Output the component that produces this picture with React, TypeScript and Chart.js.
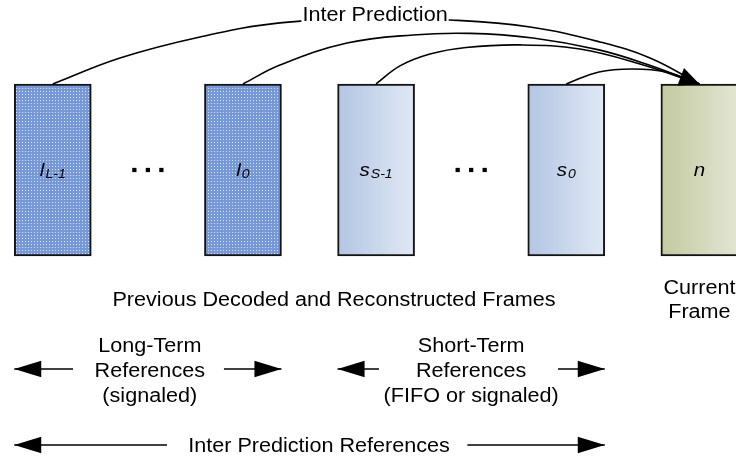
import React, { useEffect, useRef } from 'react';
import { Chart, registerables } from 'chart.js';

Chart.register(...registerables);

// ---------------- data ----------------
// frames: slot position along the timeline, spanning frame-height units 0..1
const frameMain = ['l', 'l', 's', 's', 'n'];
const frameSub = ['L-1', '0', 'S-1', '0', ''];
const frameSlot = [0, 2, 3.4, 5.4, 6.8];
const frameKind = ['long', 'long', 'short', 'short', 'current'];
const frameBottom = 0;
const frameTop = 1;

// ellipsis dots between frames
const dotsSlot = [0.858, 1.0, 1.142, 4.258, 4.4, 4.542];
const dotsLevel = [0.5, 0.5, 0.5, 0.5, 0.5, 0.5];

// prediction curves (slot units / frame-height units)
const curveLongFarX = [0.0, 0.707, 1.548, 2.389, 3.388, 4.177, 5.019, 5.755, 6.281, 6.8];
const curveLongFarY = [1.0, 1.151, 1.273, 1.355, 1.381, 1.372, 1.331, 1.244, 1.151, 1.0];
const curveLongNearX = [2.0, 2.389, 3.094, 3.788, 4.388, 5.05, 5.744, 6.27, 6.8];
const curveLongNearY = [1.0, 1.11, 1.238, 1.285, 1.294, 1.267, 1.198, 1.11, 1.0];
const curveShortFarX = [3.4, 3.651, 3.967, 4.346, 4.914, 5.544, 6.175, 6.8];
const curveShortFarY = [1.0, 1.105, 1.174, 1.212, 1.227, 1.203, 1.116, 1.0];
const curveShortNearX = [5.4, 5.744, 6.101, 6.448, 6.8];
const curveShortNearY = [1.0, 1.07, 1.087, 1.07, 1.0];

// range arrows: from -> to (arrowhead at "to"), at level
const arrowFrom = [0.213, 1.8, 3.43, 5.313, 1.201, 4.36];
const arrowTo = [-0.405, 2.405, 2.995, 5.805, -0.405, 5.805];
const arrowLevel = [-0.657, -0.657, -0.657, -0.657, -1.099, -1.099];

// texts
const topLabel = 'Inter Prediction';
const framesCaption = 'Previous Decoded and Reconstructed Frames';
const currentCaption = ['Current', 'Frame'];
const longCaption = ['Long-Term', 'References', '(signaled)'];
const shortCaption = ['Short-Term', 'References', '(FIFO or signaled)'];
const bottomLabel = 'Inter Prediction References';

// ---------------- layout / style ----------------
const L = {
  xMin: -0.555,
  xMax: 7.185,
  yMin: -1.18,
  yMax: 1.488,
  topLabel: { x: 3.389, y: 1.366 },
  framesCaption: { x: 2.957, y: -0.291 },
  currentCaption: { x: 6.8, y: [-0.221, -0.36] },
  longCaption: { x: 1.02, y: [-0.558, -0.703, -0.848] },
  shortCaption: { x: 4.4, y: [-0.558, -0.703, -0.848] },
  bottomLabel: { x: 2.8, y: -1.137 },
  frameLabelY: 0.465,
};
const FONT = '"Liberation Sans", Arial, Helvetica, sans-serif';
const SX = 1.08;
const TEXT_SIZE = 20;

let patternCache: CanvasPattern | null = null;
function getPattern(ctx: CanvasRenderingContext2D) {
  if (patternCache) return patternCache;
  const c = document.createElement('canvas');
  c.width = 3;
  c.height = 3;
  const g = c.getContext('2d')!;
  g.fillStyle = '#7798d6';
  g.fillRect(0, 0, 3, 3);
  g.fillStyle = '#d9e3f6';
  g.fillRect(1, 1, 1, 1);
  patternCache = ctx.createPattern(c, 'repeat');
  return patternCache!;
}

function drawStretched(ctx: CanvasRenderingContext2D, text: string, x: number, y: number, font: string, align: CanvasTextAlign = 'center') {
  ctx.save();
  ctx.font = font;
  ctx.textAlign = align;
  ctx.textBaseline = 'alphabetic';
  ctx.translate(x, y);
  ctx.scale(SX, 1);
  ctx.fillText(text, 0, 0);
  ctx.restore();
}

const diagramPlugin = {
  id: 'diagramText',
  afterDatasetsDraw(chart: any) {
    const ctx: CanvasRenderingContext2D = chart.ctx;
    const xs = chart.scales.x;
    const ys = chart.scales.y;
    const px = (v: number) => xs.getPixelForValue(v);
    const py = (v: number) => ys.getPixelForValue(v);
    ctx.save();
    ctx.fillStyle = '#000';

    // arrowheads
    chart.data.datasets.forEach((ds: any, i: number) => {
      const head = ds.arrowHead;
      if (!head) return;
      const pts = chart.getDatasetMeta(i).data;
      const a = pts[pts.length - 2];
      const b = pts[pts.length - 1];
      const ang = Math.atan2(b.y - a.y, b.x - a.x);
      ctx.save();
      ctx.translate(b.x, b.y);
      ctx.rotate(ang);
      ctx.beginPath();
      ctx.moveTo(0, 0);
      ctx.lineTo(-head.len, -head.half);
      ctx.lineTo(-head.len, head.half);
      ctx.closePath();
      ctx.fillStyle = '#000';
      ctx.fill();
      ctx.restore();
    });

    const font = `${TEXT_SIZE}px ${FONT}`;

    // top label with white background over the curve
    {
      const x = px(L.topLabel.x);
      const y = py(L.topLabel.y);
      ctx.font = font;
      const w = ctx.measureText(topLabel).width * SX;
      ctx.fillStyle = '#fff';
      ctx.fillRect(x - w / 2 - 1, y - 16, w + 2, 20);
      ctx.fillStyle = '#000';
      drawStretched(ctx, topLabel, x, y, font);
    }

    // frame labels
    const mainFont = `italic 19px ${FONT}`;
    const subFont = `italic 13px ${FONT}`;
    frameMain.forEach((m, i) => {
      const cx = px(frameSlot[i]);
      const by = py(L.frameLabelY);
      ctx.font = mainFont;
      const wm = ctx.measureText(m).width * SX;
      ctx.font = subFont;
      const wsub = frameSub[i] ? ctx.measureText(frameSub[i]).width * SX + 1 : 0;
      const start = cx - (wm + wsub) / 2;
      drawStretched(ctx, m, start, by, mainFont, 'left');
      if (frameSub[i]) drawStretched(ctx, frameSub[i], start + wm + 1, by + 2.5, subFont, 'left');
    });

    drawStretched(ctx, framesCaption, px(L.framesCaption.x), py(L.framesCaption.y), font);
    currentCaption.forEach((t, k) => drawStretched(ctx, t, px(L.currentCaption.x), py(L.currentCaption.y[k]), font));
    longCaption.forEach((t, k) => drawStretched(ctx, t, px(L.longCaption.x), py(L.longCaption.y[k]), font));
    shortCaption.forEach((t, k) => drawStretched(ctx, t, px(L.shortCaption.x), py(L.shortCaption.y[k]), font));
    drawStretched(ctx, bottomLabel, px(L.bottomLabel.x), py(L.bottomLabel.y), font);

    ctx.restore();
  },
};

function frameFill(c: any) {
  const chart = c.chart;
  const i = c.dataIndex;
  const kind = frameKind[i];
  const ctx: CanvasRenderingContext2D = chart.ctx;
  if (kind === 'long') return getPattern(ctx);
  const xs = chart.scales && chart.scales.x;
  const colors = kind === 'short' ? ['#b3c5e3', '#e0e8f4'] : ['#c3caa0', '#e2e5d4'];
  if (!xs || i === undefined) return colors[0];
  const cx = xs.getPixelForValue(frameSlot[i]);
  const g = ctx.createLinearGradient(cx - 38.5, 0, cx + 38.5, 0);
  g.addColorStop(0, colors[0]);
  g.addColorStop(1, colors[1]);
  return g;
}

const curves = [
  { x: curveLongFarX, y: curveLongFarY, head: false },
  { x: curveLongNearX, y: curveLongNearY, head: true },
  { x: curveShortFarX, y: curveShortFarY, head: false },
  { x: curveShortNearX, y: curveShortNearY, head: false },
];

export default function App() {
  const ref = useRef<HTMLCanvasElement>(null);
  useEffect(() => {
    document.body.style.margin = '0';
    const datasets: any[] = [];
    datasets.push({
      type: 'bar',
      data: frameSlot.map((x) => ({ x, y: [frameBottom, frameTop] })),
      backgroundColor: frameFill,
      borderColor: '#141414',
      borderWidth: 2,
      borderSkipped: false,
      barThickness: 77,
      order: 1,
    });
    curves.forEach((c) => {
      datasets.push({
        type: 'line',
        data: c.x.map((x, k) => ({ x, y: c.y[k] })),
        borderColor: '#000',
        borderWidth: 1.6,
        pointRadius: 0,
        tension: 0.4,
        fill: false,
        order: 0,
        arrowHead: c.head ? { len: 20, half: 9.5 } : undefined,
      });
    });
    arrowFrom.forEach((f, k) => {
      datasets.push({
        type: 'line',
        data: [
          { x: f, y: arrowLevel[k] },
          { x: arrowTo[k], y: arrowLevel[k] },
        ],
        borderColor: '#000',
        borderWidth: 1.6,
        pointRadius: 0,
        fill: false,
        order: 0,
        arrowHead: { len: 27, half: 8.3 },
      });
    });
    datasets.push({
      type: 'line',
      data: dotsSlot.map((x, k) => ({ x, y: dotsLevel[k] })),
      showLine: false,
      pointStyle: 'rect',
      pointRadius: 3,
      pointBorderWidth: 0,
      pointBackgroundColor: '#000',
      order: 0,
    });

    const chart = new Chart(ref.current!, {
      type: 'bar',
      data: { datasets },
      options: {
        animation: false,
        responsive: false,
        devicePixelRatio: 1,
        layout: { padding: 0, autoPadding: false },
        events: [],
        plugins: { legend: { display: false }, tooltip: { enabled: false }, title: { display: false } },
        scales: {
          x: { type: 'linear', min: L.xMin, max: L.xMax, display: false, offset: false },
          y: { type: 'linear', min: L.yMin, max: L.yMax, display: false },
        },
      } as any,
      plugins: [diagramPlugin],
    });
    return () => chart.destroy();
  }, []);
  return <canvas ref={ref} width={736} height={459} style={{ display: 'block' }} />;
}
